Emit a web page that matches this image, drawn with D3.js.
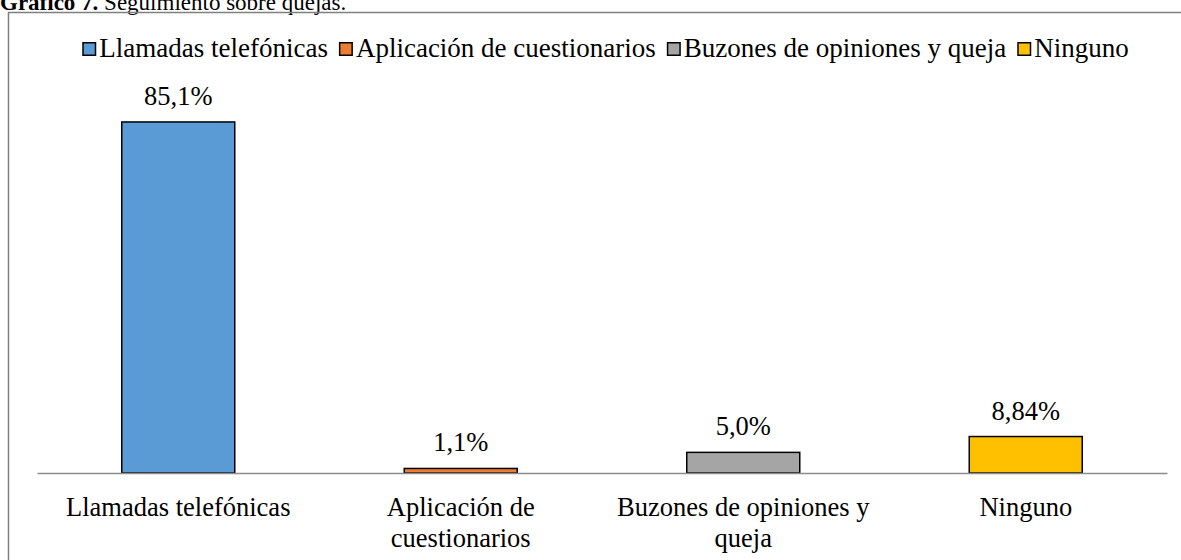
<!DOCTYPE html>
<html><head><meta charset="utf-8">
<script src="https://cdn.jsdelivr.net/npm/d3@7"></script>
<style>html,body{margin:0;padding:0;background:#fff;overflow:hidden} svg text{font-family:"Liberation Serif","Times New Roman",serif}</style>
</head><body>
<svg id="c" width="1181" height="560"></svg>
<script>
const categories = ["Llamadas telefónicas", "Aplicación de cuestionarios", "Buzones de opiniones y queja", "Ninguno"];
const axisLabels = [["Llamadas telefónicas"], ["Aplicación de", "cuestionarios"], ["Buzones de opiniones y", "queja"], ["Ninguno"]];
const values = [85.1, 1.1, 5.0, 8.84];
const valueLabels = ["85,1%", "1,1%", "5,0%", "8,84%"];
const colors = ["#5B9BD5", "#ED7D31", "#A5A5A5", "#FFC000"];

const svg = d3.select("#c");
const FS = 26.5;

// title (cut at the top edge, as in the reference)
const t = svg.append("text").attr("x", 0).attr("y", 9.5).attr("font-size", 23).attr("fill", "#000");
t.append("tspan").attr("font-weight", "bold").text("Gráfico 7.");
t.append("tspan").text(" Seguimiento sobre quejas.");

// chart border
svg.append("rect").attr("x", 8.5).attr("y", 12.5).attr("width", 1200).attr("height", 600)
  .attr("fill", "none").attr("stroke", "#808080").attr("stroke-width", 1.5);

const x = d3.scaleBand().domain(categories).range([37, 1167]).paddingInner(0.6).paddingOuter(0.3);
const y = d3.scaleLinear().domain([0, 100]).range([473, 60.5]);

// bars
svg.selectAll("rect.bar").data(values).join("rect").attr("class", "bar")
  .attr("x", (d, i) => x(categories[i]))
  .attr("y", d => y(d))
  .attr("width", x.bandwidth())
  .attr("height", d => y(0) - y(d))
  .attr("fill", (d, i) => colors[i])
  .attr("stroke", "#000").attr("stroke-width", 1.5);

// axis line
const axis = d3.axisBottom(x).tickSize(0).tickFormat("");
const g = svg.append("g").attr("transform", `translate(0,${y(0)})`).call(axis);
g.select(".domain").attr("stroke", "#8c8c8c").attr("stroke-width", 1.5);

// value labels
svg.selectAll("text.val").data(values).join("text").attr("class", "val")
  .attr("x", (d, i) => x(categories[i]) + x.bandwidth() / 2)
  .attr("y", d => y(d) - 17)
  .attr("text-anchor", "middle").attr("font-size", FS).attr("fill", "#000")
  .text((d, i) => valueLabels[i]);

// category labels
axisLabels.forEach((lines, i) => {
  const tx = svg.append("text").attr("text-anchor", "middle").attr("font-size", FS).attr("fill", "#000");
  lines.forEach((l, j) => {
    tx.append("tspan").attr("x", x(categories[i]) + x.bandwidth() / 2).attr("y", 516 + j * 31).text(l);
  });
});

// legend
const lg = svg.append("g");
let cx = 0;
const GAP = 11;
categories.forEach((c, i) => {
  const it = lg.append("g").attr("transform", `translate(${cx},0)`);
  it.append("rect").attr("x", 0.75).attr("y", -14.25).attr("width", 12.5).attr("height", 12.5)
    .attr("fill", colors[i]).attr("stroke", "#000").attr("stroke-width", 1.5);
  const tt = it.append("text").attr("x", 17).attr("y", 0).attr("font-size", 27).attr("fill", "#000").text(c);
  const w = 17 + tt.node().getComputedTextLength();
  cx += w + GAP;
});
const totalW = cx - GAP;
lg.attr("transform", `translate(${605.5 - totalW / 2},57)`);
</script>
</body></html>
